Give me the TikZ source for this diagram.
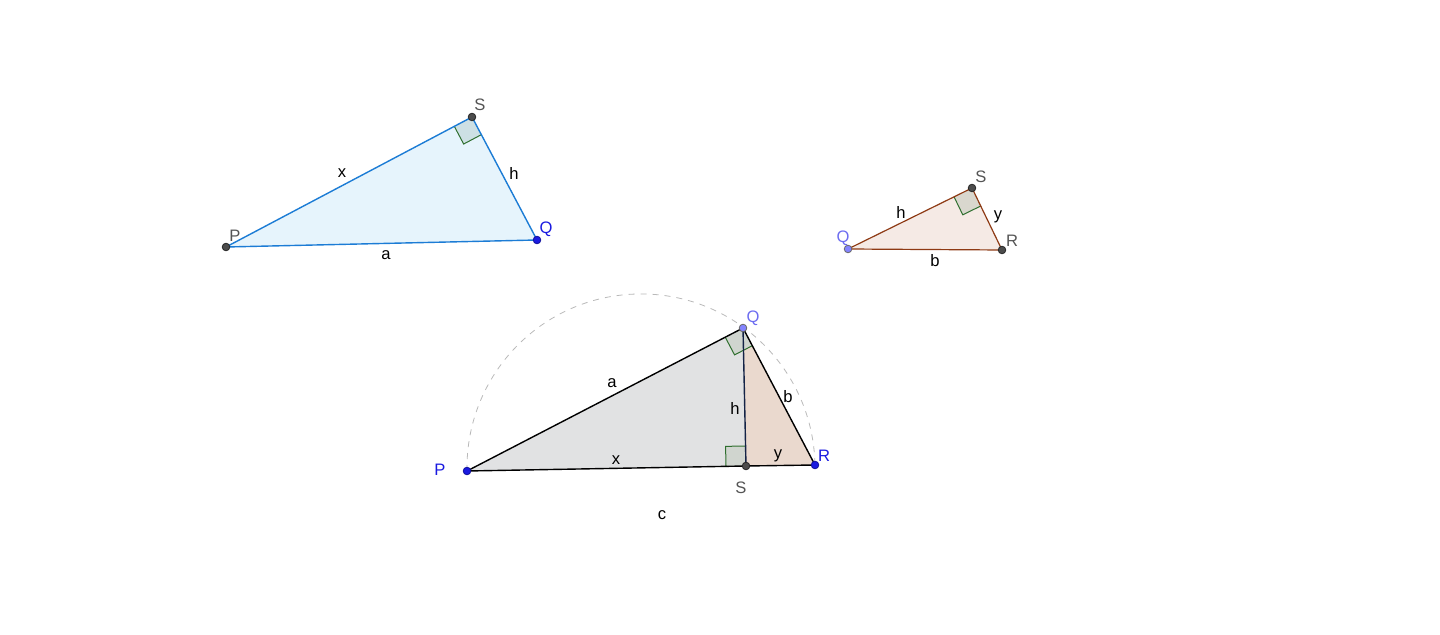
\documentclass[tikz,border=0pt]{standalone}
\usepackage{fontspec}
\setmainfont{Liberation Sans}
\usetikzlibrary{calc}
\definecolor{edgeBlue}{HTML}{1C7CD5}
\definecolor{fillBlue}{HTML}{E6F4FC}
\definecolor{markBlue}{HTML}{CDE0E4}
\definecolor{edgeBrown}{HTML}{8E3A14}
\definecolor{fillPink}{HTML}{F5EAE5}
\definecolor{markPink}{HTML}{D9D7CE}
\definecolor{fillGray}{HTML}{E1E2E3}
\definecolor{fillTan}{HTML}{EAD9CE}
\definecolor{markGray}{HTML}{D0D5CF}
\definecolor{markGreen}{HTML}{2F6F2F}
\definecolor{ptBlue}{HTML}{1A1AE0}
\definecolor{ptLight}{HTML}{8484FF}
\definecolor{txtLight}{HTML}{6C6CF0}
\definecolor{txtGray}{HTML}{555555}
\begin{document}
\begin{tikzpicture}[x=0.5pt, y=-0.5pt,
pointDark/.style={circle, draw=black!85, fill=black!70, inner sep=0pt, minimum size=3.8pt},
pointBlue/.style={circle, draw=ptBlue!70!black, fill=ptBlue, inner sep=0pt, minimum size=3.8pt},
pointLight/.style={circle, draw=black!60, fill=ptLight, inner sep=0pt, minimum size=3.8pt},
labelText/.style={inner sep=0pt, font=\fontsize{8.3}{10}\selectfont},
edgeA/.style={edgeBlue, line width=0.7pt},
edgeB/.style={edgeBrown, line width=0.6pt},
edgeC/.style={black, line width=0.7pt}]
\useasboundingbox (0, 0) rectangle (1440, 635);

% vertices
\coordinate (P1) at (226, 247);
\coordinate (S1) at (472, 117);
\coordinate (Q1) at (537, 240);
\coordinate (Q2) at (848, 249);
\coordinate (S2) at (972, 188);
\coordinate (R2) at (1002, 250);
\coordinate (P3) at (467, 471);
\coordinate (Q3) at (743, 328);
\coordinate (R3) at (815, 465);
\coordinate (S3) at (746, 466);

\draw[gray!55, dashed, line width=0.4pt] (P3) arc[start angle=181, end angle=1, radius=87pt];

\fill[fillBlue] (P1) -- (S1) -- (Q1) -- cycle;
\fill[fillPink] (Q2) -- (S2) -- (R2) -- cycle;
\fill[fillGray] (P3) -- (Q3) -- (S3) -- cycle;
\fill[fillTan] (Q3) -- (R3) -- (S3) -- cycle;

\foreach \v/\a/\b/\c in {S1/P1/Q1/markBlue, S2/Q2/R2/markPink, Q3/P3/R3/markGray, S3/P3/Q3/markGray}{
  \coordinate (ma) at ($(\v)!10pt!(\a)$);
  \coordinate (mb) at ($(\v)!10pt!(\b)$);
  \coordinate (mc) at ($(ma)+(mb)-(\v)$);
  \fill[\c] (\v) -- (ma) -- (mc) -- (mb) -- cycle;
  \draw[markGreen, line width=0.5pt] (ma) -- (mc) -- (mb);
}

\draw[edgeA] (P1) -- (S1) -- (Q1) -- cycle;
\draw[edgeB] (Q2) -- (S2) -- (R2) -- cycle;
\draw[edgeC] (P3) -- (Q3) -- (R3) -- (S3) -- cycle;
\draw[edgeC, draw={rgb,255:red,20;green,35;blue,70}] (Q3) -- (S3);

\node[pointDark] (dotP1) at (P1) {};
\node[pointDark] (dotS1) at (S1) {};
\node[pointBlue] (dotQ1) at (Q1) {};
\node[pointLight] (dotQ2) at (Q2) {};
\node[pointDark] (dotS2) at (S2) {};
\node[pointDark] (dotR2) at (R2) {};
\node[pointBlue] (dotP3) at (P3) {};
\node[pointLight] (dotQ3) at (Q3) {};
\node[pointBlue] (dotR3) at (R3) {};
\node[pointDark] (dotS3) at (S3) {};

\node[labelText, txtGray](labP1) at (235, 236) {P};
\node[labelText, txtGray](labS1) at (480, 105) {S};
\node[labelText, ptBlue](labQ1) at (546, 229) {Q};
\node[labelText](labx1) at (342, 173) {x};
\node[labelText](labh1) at (514, 173) {h};
\node[labelText](laba1) at (386, 255) {a};

\node[labelText, txtLight](labQ2) at (843, 238) {Q};
\node[labelText, txtGray](labS2) at (981, 177) {S};
\node[labelText, txtGray](labR2) at (1012, 241) {R};
\node[labelText](labh2) at (901, 212) {h};
\node[labelText](laby2) at (998, 217) {y};
\node[labelText](labb2) at (935, 261) {b};

\node[labelText, ptBlue](labP3) at (440, 470) {P};
\node[labelText, txtLight](labQ3) at (753, 318) {Q};
\node[labelText, ptBlue](labR3) at (824, 456) {R};
\node[labelText, txtGray](labS3) at (741, 488) {S};
\node[labelText](laba3) at (612, 383) {a};
\node[labelText](labh3) at (735, 408) {h};
\node[labelText](labb3) at (788, 397) {b};
\node[labelText](labx3) at (616, 460) {x};
\node[labelText](laby3) at (778, 456) {y};
\node[labelText](labc3) at (662, 515) {c};

%%%%%%%%%%%%%%%%%%%%%%%%%%%%%%%%%%%%%%%%%%%%%%%%%%%%%%%%%%%%%%%%%%%%%%%

\end{tikzpicture}
\end{document}
